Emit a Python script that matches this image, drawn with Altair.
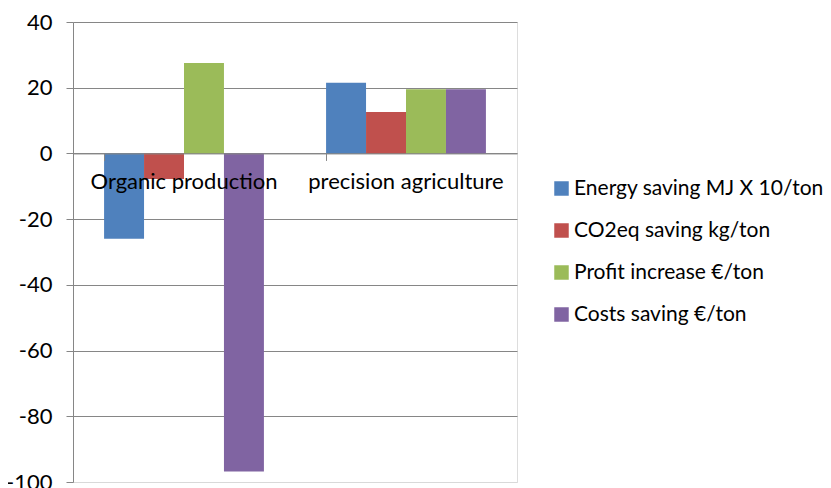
import altair as alt
import pandas as pd

categories = ["Organic production", "precision agriculture"]
series = ["Energy saving MJ X 10/ton", "CO2eq saving kg/ton",
          "Profit increase €/ton", "Costs saving €/ton"]
energy = [-26.0, 21.5]
co2 = [-7.8, 12.6]
profit = [27.5, 19.5]
costs = [-96.8, 19.5]
colors = ["#4F81BD", "#C0504D", "#9BBB59", "#8064A2"]
y_ticks = [-100, -80, -60, -40, -20, 0, 20, 40]

rows = []
for s, vals in zip(series, [energy, co2, profit, costs]):
    for c, v in zip(categories, vals):
        rows.append({"category": c, "series": s, "value": v})
df = pd.DataFrame(rows)

FONT = "Lato"
H = 460

chart = alt.Chart(df).mark_bar().encode(
    x=alt.X("category:N", sort=categories, title=None,
            scale=alt.Scale(paddingInner=0.28, paddingOuter=0.14),
            axis=alt.Axis(orient="bottom", offset=-(H * 100 / 140), labelAngle=0,
                          bandPosition=0, tickSize=7, tickColor="#868686",
                          domainColor="#868686", labelPadding=11, zindex=1,
                          labelFontSize=22, labelFont=FONT, labelColor="#000000",
                          labelBaseline="top", labelLimit=400, grid=False)),
    xOffset=alt.XOffset("series:N", sort=series),
    y=alt.Y("value:Q", title=None,
            scale=alt.Scale(domain=[-100, 40], nice=False, zero=False),
            axis=alt.Axis(values=y_ticks, tickSize=7, tickColor="#868686",
                          domainColor="#868686", labelPadding=14,
                          labelExpr="'' + datum.value",
                          gridColor={"condition": {"test": "datum.value == -100", "value": "#d9d9d9"},
                                     "value": "#868686"},
                          labelFontSize=22, labelFont=FONT, labelColor="#000000")),
    color=alt.Color("series:N", sort=series,
                    scale=alt.Scale(domain=series, range=colors),
                    legend=alt.Legend(title=None, orient="none", legendX=478, legendY=156,
                                      symbolType="square", symbolSize=210,
                                      symbolStrokeWidth=0, rowPadding=20,
                                      labelFontSize=21, labelFont=FONT, labelLimit=400,
                                      labelColor="#000000", labelOffset=2)),
).properties(
    width=444, height=H,
    padding={"left": 65, "top": 14, "right": 306, "bottom": 6},
    autosize=alt.AutoSizeParams(type="none"),
).configure_view(
    stroke="#d9d9d9"
).configure(background="white")

chart.save("out.html", embed_options={"renderer": "svg", "actions": False})
